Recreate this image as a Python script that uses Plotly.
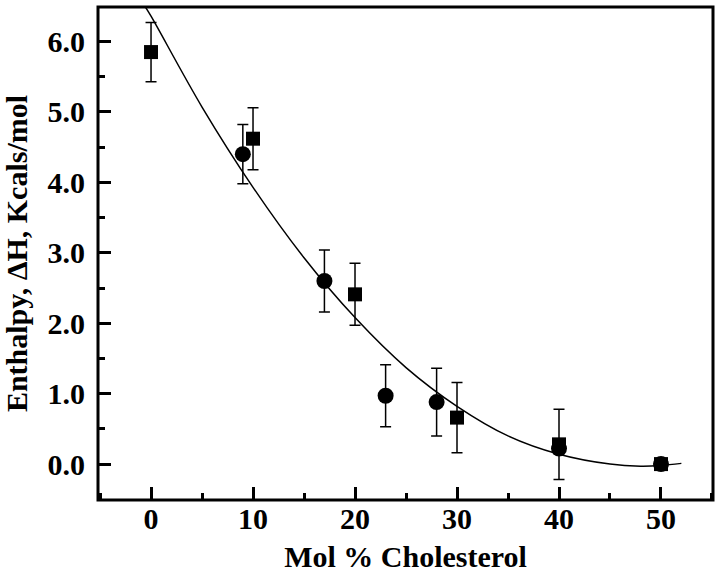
import plotly.graph_objects as go

# Squares series
sq_x = [0, 10, 20, 30, 40, 50]
sq_y = [5.85, 4.62, 2.41, 0.66, 0.28, 0.0]
sq_err = [0.42, 0.44, 0.44, 0.50, 0.50, 0.0]

# Circles series
ci_x = [9, 17, 23, 28, 40, 50]
ci_y = [4.40, 2.60, 0.97, 0.88, 0.22, 0.0]
ci_err = [0.42, 0.44, 0.44, 0.48, 0.0, 0.0]

# Fitted curve
fit_x = [-0.6, 0, 5, 10, 15, 20, 25, 30, 35, 40, 45, 48, 50, 52]
fit_y = [6.50, 6.36, 5.07, 3.93, 2.93, 2.08, 1.37, 0.82, 0.40, 0.14, 0.00, -0.03, -0.02, 0.01]

x_ticks = [0, 10, 20, 30, 40, 50]
y_ticks = [0.0, 1.0, 2.0, 3.0, 4.0, 5.0, 6.0]
y_ticklabels = ["0.0", "1.0", "2.0", "3.0", "4.0", "5.0", "6.0"]

FONT = "Liberation Serif, Times New Roman, serif"
FS = 30

fig = go.Figure()
fig.add_trace(go.Scatter(x=fit_x, y=fit_y, mode="lines", line=dict(color="black", width=1.5, shape="spline"),
                         showlegend=False, hoverinfo="skip"))
fig.add_trace(go.Scatter(x=sq_x, y=sq_y, mode="markers",
                         marker=dict(symbol="square", size=14, color="black"),
                         error_y=dict(type="data", array=sq_err, color="black", thickness=1.5, width=5.5, visible=True),
                         showlegend=False))
fig.add_trace(go.Scatter(x=ci_x, y=ci_y, mode="markers",
                         marker=dict(symbol="circle", size=16, color="black"),
                         error_y=dict(type="data", array=ci_err, color="black", thickness=1.5, width=5.5, visible=True),
                         showlegend=False))

fig.update_layout(
    width=720, height=577,
    margin=dict(l=98, r=7, t=7, b=77, autoexpand=False),
    paper_bgcolor="white", plot_bgcolor="white",
    font=dict(family=FONT, size=FS, color="black"),
    showlegend=False,
    shapes=[dict(type="rect", xref="paper", yref="paper", x0=0, x1=1, y0=0, y1=1,
                 line=dict(color="black", width=3), fillcolor="rgba(0,0,0,0)", layer="above")],
)
fig.update_xaxes(
    range=[-5.2, 55.1], tickvals=x_ticks, ticktext=["<b>%d</b>" % v for v in x_ticks],
    ticks="inside", ticklen=13, tickwidth=3, tickcolor="black",
    showline=False, showgrid=False, zeroline=False,
    minor=dict(ticks="inside", dtick=5, tick0=0, ticklen=7, tickwidth=3, tickcolor="black", showgrid=False),
    tickfont=dict(family=FONT, size=FS, color="black"),
    title=dict(text="<b>Mol % Cholesterol</b>", font=dict(family=FONT, size=FS, color="black"), standoff=11),
    ticklabelstandoff=-2, automargin=False,
)
fig.update_yaxes(
    range=[-0.51, 6.49], tickvals=y_ticks, ticktext=["<b>%s</b>" % t for t in y_ticklabels],
    ticks="inside", ticklen=13, tickwidth=3, tickcolor="black",
    showline=False, showgrid=False, zeroline=False,
    minor=dict(ticks="inside", dtick=0.5, tick0=0, ticklen=7, tickwidth=3, tickcolor="black", showgrid=False),
    tickfont=dict(family=FONT, size=FS, color="black"),
    title=dict(text="<b>Enthalpy, ΔH, Kcals/mol</b>", font=dict(family=FONT, size=FS, color="black"), standoff=14),
    ticklabelstandoff=12, automargin=False,
)

fig.write_html("out.html", config={"displayModeBar": False},
               post_script="document.body.style.margin='0';document.body.style.padding='0';")
